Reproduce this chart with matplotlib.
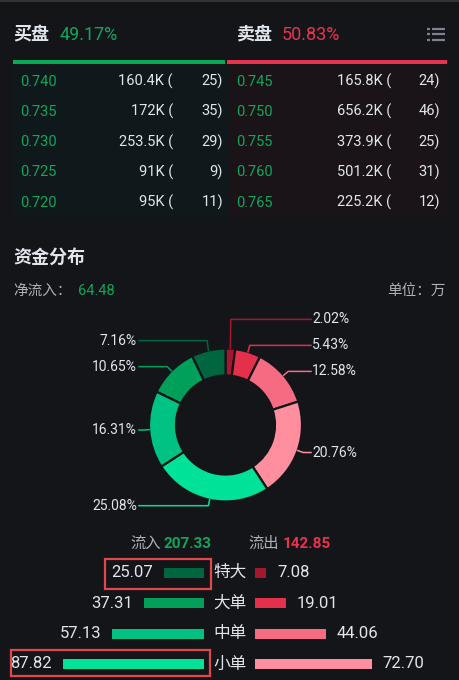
import matplotlib
matplotlib.use("Agg")
import matplotlib.pyplot as plt
import numpy as np
from matplotlib.patches import Rectangle

# ---- data ----
buy_pct = 49.17
sell_pct = 50.83
bid_prices = ["0.740", "0.735", "0.730", "0.725", "0.720"]
bid_vols = ["160.4K", "172K", "253.5K", "91K", "95K"]
bid_counts = [25, 35, 29, 9, 11]
ask_prices = ["0.745", "0.750", "0.755", "0.760", "0.765"]
ask_vols = ["165.8K", "656.2K", "373.9K", "501.2K", "225.2K"]
ask_counts = [24, 46, 25, 31, 12]

categories = ["特大", "大单", "中单", "小单"]
inflow = [25.07, 37.31, 57.13, 87.82]
outflow = [7.08, 19.01, 44.06, 72.70]

# ---- style ----
W, H = 459, 680
BG = "#131519"
BID_BG = "#0f191b"
ASK_BG = "#1a1418"
GREEN = "#12a55c"
RED = "#e8334f"
TXT = "#e1e5ec"
GREY = "#adb2ba"
IN_COLORS = ["#006640", "#00a05a", "#00c283", "#00e298"]
OUT_COLORS = ["#a3182f", "#e3304b", "#f56b82", "#ff8e9e"]
FONT = ["Roboto", "Noto Sans CJK SC", "DejaVu Sans"]
plt.rcParams["font.family"] = FONT

fig = plt.figure(figsize=(W / 100, H / 100), dpi=100, facecolor=BG)
ax = fig.add_axes([0, 0, 1, 1])
ax.set_facecolor(BG)

# top rule
ax.plot([0, W], [0.5, 0.5], color="#3a3b38", lw=1.2)

# ---- order book header ----
ax.text(13, 35, "买盘", color=TXT, fontsize=13, fontweight="bold", va="center")
ax.text(60, 35, f"{buy_pct:.2f}%", color=GREEN, fontsize=13, va="center")
ax.text(236, 35, "卖盘", color=TXT, fontsize=13, fontweight="bold", va="center")
ax.text(282, 35, f"{sell_pct:.2f}%", color=RED, fontsize=13, va="center")
for y in (28.5, 34, 39.5):
    ax.plot([427, 429.5], [y, y], color="#7d828c", lw=1.6, solid_capstyle="butt")
    ax.plot([432, 445], [y, y], color="#7d828c", lw=1.6, solid_capstyle="butt")

ax.add_patch(Rectangle((13, 60), 212, 4, color="#0aa957", lw=0))
ax.add_patch(Rectangle((227, 60), 220, 4, color=RED, lw=0))
ax.add_patch(Rectangle((13, 64), 215, 153, color=BID_BG, lw=0))
ax.add_patch(Rectangle((229, 64), 218, 153, color=ASK_BG, lw=0))

row_y0, row_dy = 81.5, 30.3
for i in range(len(bid_prices)):
    y = row_y0 + i * row_dy
    ax.text(20, y, bid_prices[i], color=GREEN, fontsize=10.5, va="center")
    ax.text(173, y, f"{bid_vols[i]} (", color=TXT, fontsize=10.5, va="center", ha="right")
    ax.text(223, y, f"{bid_counts[i]})", color=TXT, fontsize=10.5, va="center", ha="right")
    ax.text(236, y, ask_prices[i], color=GREEN, fontsize=10.5, va="center")
    ax.text(391, y, f"{ask_vols[i]} (", color=TXT, fontsize=10.5, va="center", ha="right")
    ax.text(440, y, f"{ask_counts[i]})", color=TXT, fontsize=10.5, va="center", ha="right")

# ---- capital distribution ----
total_in = sum(inflow)
total_out = sum(outflow)
total = total_in + total_out
ax.text(13, 258, "资金分布", color=TXT, fontsize=13, fontweight="bold", va="center")
ax.text(13, 291, "净流入：", color=GREY, fontsize=10.5, va="center")
ax.text(78, 291, f"{total_in - total_out:.2f}", color=GREEN, fontsize=10.5, va="center")
ax.text(446, 291, "单位：万", color=GREY, fontsize=10.5, va="center", ha="right")

# donut: outflow from top clockwise (small -> large), then inflow (large -> small)
slice_vals = outflow + inflow[::-1]
slice_cols = OUT_COLORS + IN_COLORS[::-1]
cx, cy, r_out, ring = 225.5, 425, 76.5, 27
# y axis is inverted, so counterclock in data space reads clockwise on screen
ax.pie(slice_vals, colors=slice_cols, startangle=-90, counterclock=True,
       center=(cx, cy), radius=r_out, frame=True,
       wedgeprops=dict(width=ring, edgecolor=BG, linewidth=1.6))

# leader lines and labels
pcts = [v / total * 100 for v in slice_vals]
cum = np.cumsum([0] + pcts)
items = []
for k, p in enumerate(pcts):
    mid = np.deg2rad(90 - (cum[k] + p / 2) * 3.6)  # screen angle
    sx, sy = cx + r_out * np.cos(mid), cy - r_out * np.sin(mid)
    ex, ey = cx + (r_out + 6) * np.cos(mid), cy - (r_out + 6) * np.sin(mid)
    items.append(dict(p=p, col=slice_cols[k], sx=sx, sy=sy, ex=ex, ey=ey,
                      right=np.cos(mid) >= 0))
gap = 26
for side in (True, False):
    grp = sorted([it for it in items if it["right"] == side], key=lambda d: -d["ey"])
    prev = None
    for it in grp:
        ly = it["ey"] if prev is None else min(it["ey"], prev - gap)
        it["ly"] = ly
        prev = ly
for it in items:
    tx = 311 if it["right"] else 139
    ax.plot([it["sx"], it["ex"], tx], [it["sy"], it["ly"], it["ly"]],
            color=it["col"], lw=1.1)
    ax.text(tx + 1 if it["right"] else tx - 2, it["ly"], f"{it['p']:.2f}%",
            color=TXT, fontsize=10, va="center",
            ha="left" if it["right"] else "right")

ax.set_xlim(0, W)
ax.set_ylim(H, 0)
ax.set_aspect("auto")
ax.axis("off")

# ---- flow bars ----
ax.text(130, 544, "流入", color=GREY, fontsize=11, va="center")
ax.text(163, 544, f"{total_in:.2f}", color=GREEN, fontsize=11, va="center", fontweight="bold")
ax.text(248, 544, "流出", color=GREY, fontsize=11, va="center")
ax.text(283, 544, f"{total_out:.2f}", color=RED, fontsize=11, va="center", fontweight="bold")

bar_rows_top, bar_dy = 572.5, 30.5
px_per_unit = 1.605
span = 160
n = len(categories)
ay0 = bar_rows_top - bar_dy / 2
ay1 = ay0 + n * bar_dy
axl = fig.add_axes([(204 - span) / W, 1 - ay1 / H, span / W, (ay1 - ay0) / H])
axr = fig.add_axes([255 / W, 1 - ay1 / H, span / W, (ay1 - ay0) / H])
ypos = np.arange(n)
bh = 10 / bar_dy
axl.barh(ypos, inflow, height=bh, color=IN_COLORS)
axr.barh(ypos, outflow, height=bh, color=OUT_COLORS)
axl.set_xlim(span / px_per_unit, 0)
axr.set_xlim(0, span / px_per_unit)
for a in (axl, axr):
    a.set_ylim(n - 0.5, -0.5)
    a.axis("off")
for i in range(n):
    axl.annotate(f"{inflow[i]:.2f}", xy=(inflow[i], i), xytext=(-8, 0),
                 textcoords="offset points", ha="right", va="center",
                 color=TXT, fontsize=12, annotation_clip=False)
    axr.annotate(f"{outflow[i]:.2f}", xy=(outflow[i], i), xytext=(8, 0),
                 textcoords="offset points", ha="left", va="center",
                 color=TXT, fontsize=12, annotation_clip=False)
    ax.text(230, bar_rows_top + i * bar_dy, categories[i], color=TXT,
            fontsize=12, va="center", ha="center")

# highlight boxes
ax.add_patch(Rectangle((105, 559), 106, 30, fill=False, edgecolor="#e2474a", lw=1.6))
ax.add_patch(Rectangle((11, 650), 199, 26, fill=False, edgecolor="#e2474a", lw=1.6))

fig.savefig("out.png", dpi=100, facecolor=BG)
